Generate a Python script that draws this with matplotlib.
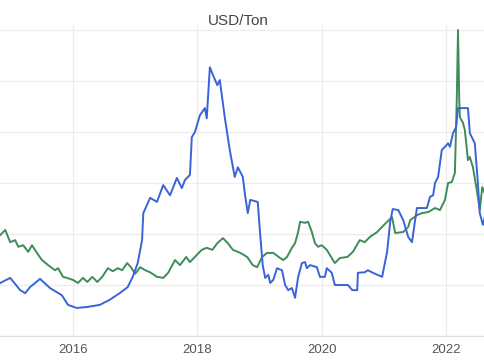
import matplotlib
matplotlib.use("Agg")
import matplotlib.pyplot as plt

title = "USD/Ton"
tick_years = [2016, 2018, 2020, 2022]
tick_labels = ["2016", "2018", "2020", "2022"]

blue_x = [2014.83, 2014.99, 2015.15, 2015.23, 2015.31, 2015.47, 2015.63, 2015.82, 2015.92, 2016.06,
          2016.23, 2016.43, 2016.59, 2016.75, 2016.88, 2016.96, 2017.04, 2017.11, 2017.13, 2017.24,
          2017.35, 2017.45, 2017.56, 2017.67, 2017.75, 2017.80, 2017.88, 2017.91, 2017.96, 2018.04,
          2018.12, 2018.15, 2018.20, 2018.25, 2018.32, 2018.36, 2018.44, 2018.52, 2018.60, 2018.65,
          2018.73, 2018.77, 2018.81, 2018.85, 2018.97, 2019.01, 2019.05, 2019.09, 2019.14, 2019.17,
          2019.22, 2019.28, 2019.36, 2019.41, 2019.46, 2019.52, 2019.57, 2019.62, 2019.68, 2019.73,
          2019.76, 2019.81, 2019.92, 2019.97, 2020.05, 2020.08, 2020.16, 2020.21, 2020.42, 2020.49,
          2020.57, 2020.58, 2020.69, 2020.74, 2020.82, 2020.97, 2021.05, 2021.10, 2021.14, 2021.23,
          2021.31, 2021.39, 2021.45, 2021.50, 2021.53, 2021.69, 2021.74, 2021.79, 2021.82, 2021.87,
          2021.93, 2021.98, 2022.03, 2022.06, 2022.11, 2022.16, 2022.19, 2022.35, 2022.38, 2022.46,
          2022.51, 2022.54, 2022.59, 2022.62]
blue_y = [104, 114, 90, 84, 96, 112, 94, 80, 61, 55,
          57, 61, 71, 84, 96, 116, 143, 188, 241, 271,
          263, 296, 276, 310, 290, 306, 316, 390, 400, 433,
          447, 427, 527, 512, 492, 502, 429, 365, 312, 331,
          312, 273, 241, 267, 263, 198, 139, 114, 120, 104,
          110, 133, 129, 100, 90, 94, 75, 116, 143, 145,
          133, 139, 135, 116, 116, 133, 124, 100, 100, 90,
          90, 124, 125, 129, 124, 116, 165, 224, 249, 247,
          227, 194, 184, 227, 251, 251, 273, 276, 300, 312,
          365, 371, 378, 371, 398, 410, 447, 447, 398, 378,
          300, 241, 218, 233]

green_x = [2014.83, 2014.91, 2014.99, 2015.07, 2015.12, 2015.20, 2015.28, 2015.34, 2015.42, 2015.50,
           2015.60, 2015.71, 2015.76, 2015.84, 2015.90, 2016.00, 2016.08, 2016.16, 2016.23, 2016.31,
           2016.39, 2016.47, 2016.56, 2016.64, 2016.72, 2016.79, 2016.87, 2016.93, 2017.00, 2017.08,
           2017.16, 2017.24, 2017.35, 2017.45, 2017.53, 2017.64, 2017.72, 2017.82, 2017.88, 2017.99,
           2018.07, 2018.15, 2018.24, 2018.32, 2018.41, 2018.49, 2018.57, 2018.69, 2018.80, 2018.89,
           2018.96, 2019.04, 2019.12, 2019.22, 2019.33, 2019.38, 2019.44, 2019.52, 2019.57, 2019.62,
           2019.65, 2019.73, 2019.78, 2019.84, 2019.89, 2019.94, 2020.00, 2020.08, 2020.13, 2020.21,
           2020.29, 2020.41, 2020.50, 2020.61, 2020.69, 2020.77, 2020.89, 2020.97, 2021.05, 2021.13,
           2021.18, 2021.31, 2021.39, 2021.42, 2021.53, 2021.61, 2021.71, 2021.82, 2021.90, 2021.98,
           2022.03, 2022.09, 2022.14, 2022.17, 2022.19, 2022.21, 2022.22, 2022.27, 2022.30, 2022.35,
           2022.38, 2022.43, 2022.50, 2022.54, 2022.58, 2022.62]
green_y = [198, 208, 184, 188, 175, 178, 165, 178, 163, 149,
           139, 129, 133, 116, 114, 110, 104, 114, 106, 116,
           106, 116, 133, 127, 133, 129, 143, 135, 122, 135,
           129, 125, 116, 114, 124, 149, 139, 155, 145, 159,
           169, 173, 169, 182, 192, 182, 169, 163, 155, 139,
           135, 155, 163, 163, 153, 149, 155, 173, 182, 204,
           224, 222, 224, 204, 182, 175, 178, 169, 159, 143,
           153, 155, 165, 188, 184, 194, 204, 214, 224, 233,
           202, 204, 214, 227, 237, 241, 243, 251, 247, 267,
           300, 302, 320, 463, 600, 463, 429, 418, 404, 345,
           351, 331, 280, 247, 292, 280]

fig = plt.figure(figsize=(4.85, 3.6), dpi=100)
ax = fig.add_axes([0.0, 1 - 336 / 360, 1.0, (336 - 25) / 360])

ax.plot(green_x, green_y, color="#3d8c59", lw=1.4, solid_joinstyle="round", zorder=3)
ax.plot(blue_x, blue_y, color="#3a63d8", lw=1.4, solid_joinstyle="round", zorder=4)

ax.set_xlim(2014.826, 2022.624)
ax.set_ylim(0, 610)
ax.set_yticks([0, 100, 200, 300, 400, 500, 600])
ax.set_yticklabels([])
ax.set_xticks(tick_years)
ax.set_xticklabels(tick_labels, fontfamily="Liberation Sans", fontsize=9.5, color="#555555")
ax.tick_params(axis="both", length=0, pad=6)
ax.tick_params(axis="y", left=False)
ax.grid(True, color="#ececec", lw=0.9)
ax.set_axisbelow(True)
for s in ["top", "left", "right"]:
    ax.spines[s].set_visible(False)
ax.spines["bottom"].set_color("#e0e0e0")
ax.spines["bottom"].set_linewidth(0.9)

fig.text(0.492, 1 - 21 / 360, title, ha="center", va="center",
         fontfamily="Liberation Sans", fontsize=11, color="#444444")

fig.savefig("out.png", dpi=100)
